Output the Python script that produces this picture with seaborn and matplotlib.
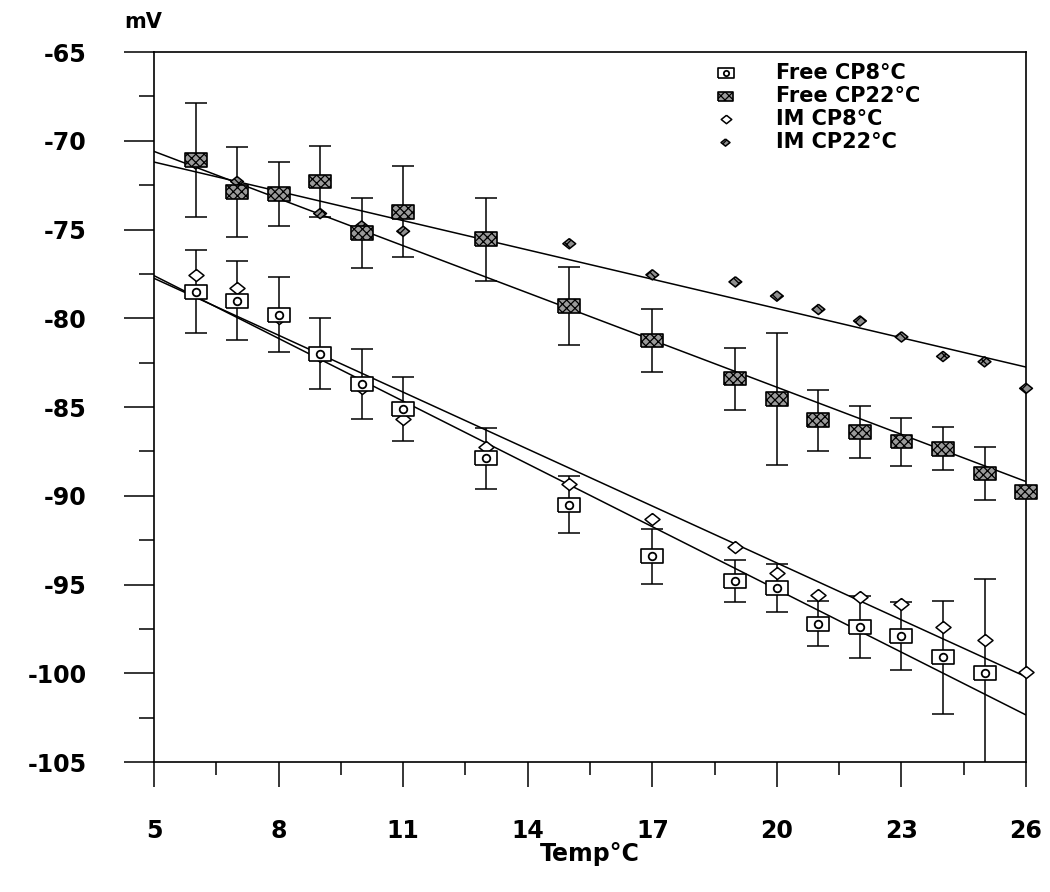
import matplotlib
matplotlib.use("Agg")
import numpy as np
import matplotlib.pyplot as plt
from matplotlib.legend_handler import HandlerTuple
import seaborn as sns

# Free CP 8°C (open boxes, with SD bars)
temp_free8 = [6, 7, 8, 9, 10, 11, 13, 15, 17, 19, 20, 21, 22, 23, 24, 25]
free8 = [-78.5, -79.0, -79.8, -82.0, -83.7, -85.1, -87.9, -90.5, -93.4, -94.8,
         -95.2, -97.2, -97.4, -97.9, -99.1, -100.0]
free8_err = [2.35, 2.2, 2.1, 2.0, 1.95, 1.8, 1.7, 1.6, 1.55, 1.2, 1.35, 1.25,
             1.75, 1.9, 3.2, 5.3]

# Free CP 22°C (dark boxes, with SD bars)
temp_free22 = [6, 7, 8, 9, 10, 11, 13, 15, 17, 19, 20, 21, 22, 23, 24, 25, 26]
free22 = [-71.1, -72.9, -73.0, -72.3, -75.2, -74.0, -75.55, -79.3, -81.25, -83.4,
          -84.55, -85.75, -86.4, -86.95, -87.35, -88.75, -89.8]
free22_err = [3.2, 2.55, 1.8, 2.0, 1.95, 2.55, 2.35, 2.2, 1.75, 1.75, 3.7, 1.7,
              1.45, 1.35, 1.2, 1.5, 0.0]

# IM CP (diamonds, no bars)
temp_im = [6, 7, 8, 9, 10, 11, 13, 15, 17, 19, 20, 21, 22, 23, 24, 25, 26]
im8 = [-77.55, -78.3, -80.0, -82.1, -83.95, -85.65, -87.25, -89.35, -91.3, -92.9,
       -94.35, -95.6, -95.7, -96.1, -97.4, -98.15, -99.9]
im22 = [-71.3, -72.3, -73.05, -74.1, -74.8, -75.1, -75.6, -75.8, -77.55, -77.95,
        -78.75, -79.5, -80.15, -81.05, -82.15, -82.45, -83.95]

# fitted lines at both ends of the axis
fit_x = [5, 26]
fit_free8 = [-77.6, -102.35]
fit_free22 = [-70.6, -89.2]
fit_im8 = [-77.75, -100.2]
fit_im22 = [-71.2, -82.75]

labels = ["Free CP8°C", "Free CP22°C", "IM CP8°C", "IM CP22°C"]
x_ticks = [5, 8, 11, 14, 17, 20, 23, 26]
y_ticks = [-105, -100, -95, -90, -85, -80, -75, -70, -65]

sns.set_style("ticks")
plt.rcParams["font.family"] = ["DejaVu Sans"]
plt.rcParams["font.weight"] = "bold"
plt.rcParams["axes.unicode_minus"] = False
plt.rcParams["hatch.linewidth"] = 0.9
for key in ["text.color", "axes.labelcolor", "xtick.color", "ytick.color",
            "axes.edgecolor"]:
    plt.rcParams[key] = "black"

rect = [(-1.6, -1), (1.6, -1), (1.6, 1), (-1.6, 1), (-1.6, -1)]
diamond = [(0, 1), (1.25, 0), (0, -1), (-1.25, 0), (0, 1)]

fig = plt.figure(figsize=(10.5, 8.92), dpi=100)
ax = fig.add_axes([0.1467, 0.1457, 0.8305, 0.796])

# error bars
ax.errorbar(temp_free8, free8, yerr=free8_err, fmt="none", ecolor="black",
            elinewidth=1.1, capsize=8, capthick=1.1, zorder=2)
ax.errorbar(temp_free22, free22, yerr=free22_err, fmt="none", ecolor="black",
            elinewidth=1.1, capsize=8, capthick=1.1, zorder=2)

# regression lines
for fy in [fit_free8, fit_free22, fit_im8, fit_im22]:
    sns.lineplot(x=fit_x, y=fy, color="black", linewidth=1.1, ax=ax, zorder=3)

# markers
sns.scatterplot(x=temp_im, y=im22, marker=diamond, s=85, color="#8f8f8f",
                edgecolor="black", linewidth=1.1, hatch="xxx", ax=ax,
                zorder=4, clip_on=False)
h_d22 = ax.collections[-1]
sns.scatterplot(x=temp_im, y=im8, marker=diamond, s=117, color="white",
                edgecolor="black", linewidth=1.1, ax=ax, zorder=5, clip_on=False)
h_d8 = ax.collections[-1]
sns.scatterplot(x=temp_free22, y=free22, marker=rect, s=250, color="#9a9a9a",
                edgecolor="black", linewidth=1.2, hatch="xxxx", ax=ax,
                zorder=6, clip_on=False)
h_sq22 = ax.collections[-1]
sns.scatterplot(x=temp_free8, y=free8, marker=rect, s=250, color="white",
                edgecolor="black", linewidth=1.2, ax=ax, zorder=6, clip_on=False)
h_sq8 = ax.collections[-1]
sns.scatterplot(x=temp_free8, y=free8, marker="o", s=30, color="white",
                edgecolor="black", linewidth=1.3, ax=ax, zorder=7, clip_on=False)
h_dot8 = ax.collections[-1]

# axes
ax.set_xlim(5, 26)
ax.set_ylim(-105, -65)
ax.set_xticks(x_ticks)
ax.set_xticks(np.arange(6.5, 26, 3), minor=True)
ax.set_yticks(y_ticks)
ax.set_yticks(np.arange(-102.5, -65, 5), minor=True)
ax.tick_params(axis="y", which="major", direction="out", length=21.6,
               width=1.1, pad=27, labelsize=17)
ax.tick_params(axis="y", which="minor", direction="out", length=10.8, width=1.1)
ax.tick_params(axis="x", which="major", direction="out", length=18,
               width=1.1, pad=23, labelsize=17)
ax.tick_params(axis="x", which="minor", direction="out", length=9, width=1.1)
for sp in ax.spines.values():
    sp.set_linewidth(1.2)
    sp.set_color("black")

ax.set_xlabel("Temp°C", fontsize=17, fontweight="bold")
ax.xaxis.set_label_coords(0.5, -0.112)
ax.set_ylabel("")
ax.text(-0.013, 1.042, "mV", transform=ax.transAxes, ha="center",
        va="center", fontsize=15, fontweight="bold")

ax.legend([(h_sq8, h_dot8), h_sq22, h_d8, h_d22], labels,
          handler_map={tuple: HandlerTuple(ndivide=1)},
          loc="upper left", bbox_to_anchor=(0.641, 0.985), frameon=False,
          borderaxespad=0, borderpad=0, handlelength=1.2, handletextpad=1.8,
          labelspacing=0.15, markerscale=0.7,
          prop={"size": 15, "weight": "bold"})

fig.savefig("out.png", dpi=100)
